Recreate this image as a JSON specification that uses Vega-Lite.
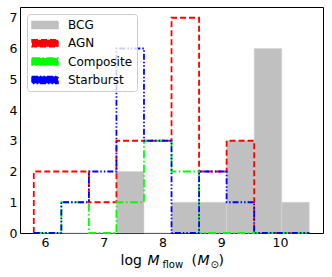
{
  "$schema": "https://vega.github.io/schema/vega-lite/v6.json",
  "width": 303,
  "height": 226,
  "autosize": {"type": "none"},
  "padding": {"left": 20, "top": 7, "right": 9, "bottom": 44},
  "background": "white",
  "config": {
    "view": {"stroke": "black", "strokeWidth": 1},
    "axis": {
      "grid": false, "domain": false,
      "labelFont": "DejaVu Sans", "labelFontSize": 12.5, "labelColor": "black",
      "tickColor": "black", "tickWidth": 1, "tickSize": 0,
      "titleFont": "DejaVu Sans", "titleColor": "black", "titleFontWeight": "normal", "titleFontSize": 14,
      "titleAlign": "left", "titleBaseline": "alphabetic", "titleAngle": 0,
      "labelOverlap": false, "labelFlush": false, "labelPadding": 3
    }
  },
  "datasets": {
    "bcg": [
      {"series": "BCG", "x0": 5.809, "x1": 6.278, "count": 0},
      {"series": "BCG", "x0": 6.278, "x1": 6.747, "count": 0},
      {"series": "BCG", "x0": 6.747, "x1": 7.216, "count": 0},
      {"series": "BCG", "x0": 7.216, "x1": 7.685, "count": 2},
      {"series": "BCG", "x0": 7.685, "x1": 8.154, "count": 0},
      {"series": "BCG", "x0": 8.154, "x1": 8.623, "count": 1},
      {"series": "BCG", "x0": 8.623, "x1": 9.092, "count": 1},
      {"series": "BCG", "x0": 9.092, "x1": 9.561, "count": 3},
      {"series": "BCG", "x0": 9.561, "x1": 10.03, "count": 6},
      {"series": "BCG", "x0": 10.03, "x1": 10.499, "count": 1}
    ],
    "steps": [
      {"series": "AGN", "i": 0, "x": 5.809, "y": 0},
      {"series": "AGN", "i": 1, "x": 5.809, "y": 2},
      {"series": "AGN", "i": 2, "x": 6.278, "y": 2},
      {"series": "AGN", "i": 3, "x": 6.747, "y": 1},
      {"series": "AGN", "i": 4, "x": 7.216, "y": 3},
      {"series": "AGN", "i": 5, "x": 7.685, "y": 3},
      {"series": "AGN", "i": 6, "x": 8.154, "y": 7},
      {"series": "AGN", "i": 7, "x": 8.623, "y": 2},
      {"series": "AGN", "i": 8, "x": 9.092, "y": 3},
      {"series": "AGN", "i": 9, "x": 9.561, "y": 0},
      {"series": "AGN", "i": 10, "x": 10.03, "y": 0},
      {"series": "AGN", "i": 11, "x": 10.499, "y": 0},
      {"series": "Composite", "i": 0, "x": 5.809, "y": 0},
      {"series": "Composite", "i": 1, "x": 5.809, "y": 0},
      {"series": "Composite", "i": 2, "x": 6.278, "y": 1},
      {"series": "Composite", "i": 3, "x": 6.747, "y": 0},
      {"series": "Composite", "i": 4, "x": 7.216, "y": 1},
      {"series": "Composite", "i": 5, "x": 7.685, "y": 3},
      {"series": "Composite", "i": 6, "x": 8.154, "y": 2},
      {"series": "Composite", "i": 7, "x": 8.623, "y": 0},
      {"series": "Composite", "i": 8, "x": 9.092, "y": 0},
      {"series": "Composite", "i": 9, "x": 9.561, "y": 0},
      {"series": "Composite", "i": 10, "x": 10.03, "y": 0},
      {"series": "Composite", "i": 11, "x": 10.499, "y": 0},
      {"series": "Starburst", "i": 0, "x": 5.809, "y": 0},
      {"series": "Starburst", "i": 1, "x": 5.809, "y": 0},
      {"series": "Starburst", "i": 2, "x": 6.278, "y": 1},
      {"series": "Starburst", "i": 3, "x": 6.747, "y": 2},
      {"series": "Starburst", "i": 4, "x": 7.216, "y": 6},
      {"series": "Starburst", "i": 5, "x": 7.685, "y": 3},
      {"series": "Starburst", "i": 6, "x": 8.154, "y": 0},
      {"series": "Starburst", "i": 7, "x": 8.623, "y": 2},
      {"series": "Starburst", "i": 8, "x": 9.092, "y": 1},
      {"series": "Starburst", "i": 9, "x": 9.561, "y": 0},
      {"series": "Starburst", "i": 10, "x": 10.03, "y": 0},
      {"series": "Starburst", "i": 11, "x": 10.499, "y": 0}
    ]
  },
  "resolve": {"axis": {"x": "independent", "y": "independent"}},
  "layer": [
    {
      "data": {"name": "bcg"},
      "mark": {"type": "rect", "stroke": "#d4d4d4", "strokeWidth": 0.5},
      "encoding": {
        "x": {
          "field": "x0", "type": "quantitative",
          "scale": {"domain": [5.574, 10.733], "nice": false, "zero": false},
          "axis": {
            "orient": "bottom",
            "values": [5.6,5.8,6,6.2,6.4,6.6,6.8,7,7.2,7.4,7.6,7.8,8,8.2,8.4,8.6,8.8,9,9.2,9.4,9.6,9.8,10,10.2,10.4,10.6],
            "labelExpr": "abs(datum.value - round(datum.value)) < 0.01 ? format(round(datum.value), 'd') : ''",
            "title": "log", "titleX": 100, "titleY": 31,
            "encode": {"ticks": {"update": {"y2": {"signal": "abs(datum.value - round(datum.value)) < 0.01 ? -5 : -3"}}}}
          }
        },
        "x2": {"field": "x1"},
        "y": {
          "field": "count", "type": "quantitative",
          "scale": {"domain": [0, 7.35], "nice": false, "zero": false},
          "axis": {
            "orient": "left",
            "values": [0,0.2,0.4,0.6,0.8,1,1.2,1.4,1.6,1.8,2,2.2,2.4,2.6,2.8,3,3.2,3.4,3.6,3.8,4,4.2,4.4,4.6,4.8,5,5.2,5.4,5.6,5.8,6,6.2,6.4,6.6,6.8,7,7.2],
            "labelExpr": "abs(datum.value - round(datum.value)) < 0.01 ? format(round(datum.value), 'd') : ''",
            "title": "M", "titleFontStyle": "italic", "titleAngle": 0, "titleX": 127, "titleY": 257,
            "encode": {"ticks": {"update": {"x2": {"signal": "abs(datum.value - round(datum.value)) < 0.01 ? 5 : 3"}}}}
          }
        },
        "y2": {"datum": 0},
        "color": {
          "field": "series", "type": "nominal",
          "scale": {"domain": ["BCG", "AGN", "Composite", "Starburst"], "range": ["#c0c0c0", "#ff0000", "#00ff00", "#0000ff"]},
          "legend": {
            "title": null, "orient": "top-left", "offset": 7, "padding": 4,
            "fillColor": "rgba(255,255,255,0.8)", "strokeColor": "#cccccc", "cornerRadius": 3,
            "labelFont": "DejaVu Sans", "labelFontSize": 12, "labelColor": "black",
            "symbolType": "M-1,-0.27H1V0.27H-1Z", "symbolSize": 676, "symbolStrokeWidth": 1.5,
            "labelOffset": 9, "rowPadding": 4.3, "clipHeight": 14,
            "encode": {"symbols": {"update": {
              "fill": {"signal": "datum.value === 'BCG' ? '#c0c0c0' : 'transparent'"},
              "stroke": {"signal": "datum.value === 'AGN' ? '#ff0000' : datum.value === 'Composite' ? '#00ff00' : datum.value === 'Starburst' ? '#0000ff' : 'transparent'"},
              "strokeDash": {"signal": "datum.value === 'AGN' ? [5, 2.5] : datum.value === 'Composite' ? [6, 2, 1.5, 2] : datum.value === 'Starburst' ? [4, 2, 1.5, 2, 1.5, 2] : [1, 0]"},
              "opacity": {"value": 1}
            }}}
          }
        }
      }
    },
    {
      "data": {"name": "steps"},
      "mark": {"type": "line", "interpolate": "step-after", "strokeWidth": 1.8},
      "encoding": {
        "x": {
          "field": "x", "type": "quantitative",
          "scale": {"domain": [5.574, 10.733], "nice": false, "zero": false},
          "axis": {
            "orient": "top", "labels": false,
            "values": [5.6,5.8,6,6.2,6.4,6.6,6.8,7,7.2,7.4,7.6,7.8,8,8.2,8.4,8.6,8.8,9,9.2,9.4,9.6,9.8,10,10.2,10.4,10.6],
            "title": "flow", "titleFontSize": 10, "titleX": 142, "titleY": 260,
            "encode": {"ticks": {"update": {"y2": {"signal": "abs(datum.value - round(datum.value)) < 0.01 ? 5 : 3"}}}}
          }
        },
        "y": {
          "field": "y", "type": "quantitative",
          "scale": {"domain": [0, 7.35], "nice": false, "zero": false},
          "axis": {
            "orient": "right", "labels": false,
            "values": [0,0.2,0.4,0.6,0.8,1,1.2,1.4,1.6,1.8,2,2.2,2.4,2.6,2.8,3,3.2,3.4,3.6,3.8,4,4.2,4.4,4.6,4.8,5,5.2,5.4,5.6,5.8,6,6.2,6.4,6.6,6.8,7,7.2],
            "title": "(", "titleAngle": 0, "titleX": -132, "titleY": 257,
            "encode": {"ticks": {"update": {"x2": {"signal": "abs(datum.value - round(datum.value)) < 0.01 ? -5 : -3"}}}}
          }
        },
        "color": {
          "field": "series", "type": "nominal",
          "scale": {"domain": ["BCG", "AGN", "Composite", "Starburst"], "range": ["#c0c0c0", "#ff0000", "#00ff00", "#0000ff"]},
          "legend": {
            "title": null, "orient": "top-left", "offset": 7, "padding": 4,
            "fillColor": "rgba(255,255,255,0.8)", "strokeColor": "#cccccc", "cornerRadius": 3,
            "labelFont": "DejaVu Sans", "labelFontSize": 12, "labelColor": "black",
            "symbolType": "M-1,-0.27H1V0.27H-1Z", "symbolSize": 676, "symbolStrokeWidth": 1.5,
            "labelOffset": 9, "rowPadding": 4.3, "clipHeight": 14,
            "encode": {"symbols": {"update": {
              "fill": {"signal": "datum.value === 'BCG' ? '#c0c0c0' : 'transparent'"},
              "stroke": {"signal": "datum.value === 'AGN' ? '#ff0000' : datum.value === 'Composite' ? '#00ff00' : datum.value === 'Starburst' ? '#0000ff' : 'transparent'"},
              "strokeDash": {"signal": "datum.value === 'AGN' ? [5, 2.5] : datum.value === 'Composite' ? [6, 2, 1.5, 2] : datum.value === 'Starburst' ? [4, 2, 1.5, 2, 1.5, 2] : [1, 0]"},
              "opacity": {"value": 1}
            }}}
          }
        },
        "strokeDash": {
          "field": "series", "type": "nominal",
          "scale": {"domain": ["BCG", "AGN", "Composite", "Starburst"], "range": [[1, 0], [6, 3], [8, 2.5, 1.5, 2.5], [6, 2, 1.5, 2, 1.5, 2]]},
          "legend": null
        },
        "order": {"field": "i", "type": "quantitative"}
      }
    },
    {
      "data": {"name": "bcg"},
      "mark": {"type": "point", "opacity": 0},
      "encoding": {
        "x": {
          "field": "x0", "type": "quantitative",
          "scale": {"domain": [5.574, 10.733], "nice": false, "zero": false},
          "axis": {"orient": "bottom", "ticks": false, "labels": false, "title": "M", "titleFontStyle": "italic", "titleX": 177, "titleY": 31}
        },
        "y": {
          "field": "count", "type": "quantitative",
          "scale": {"domain": [0, 7.35], "nice": false, "zero": false},
          "axis": {"orient": "left", "ticks": false, "labels": false, "title": "⊙", "titleFontSize": 10, "titleAngle": 0, "titleX": 190, "titleY": 260}
        }
      }
    },
    {
      "data": {"name": "bcg"},
      "mark": {"type": "point", "opacity": 0},
      "encoding": {
        "x": {
          "field": "x0", "type": "quantitative",
          "scale": {"domain": [5.574, 10.733], "nice": false, "zero": false},
          "axis": {"orient": "bottom", "ticks": false, "labels": false, "title": ")", "titleX": 198, "titleY": 31}
        },
        "y": {
          "field": "count", "type": "quantitative",
          "scale": {"domain": [0, 7.35], "nice": false, "zero": false},
          "axis": null
        }
      }
    }
  ]
}
